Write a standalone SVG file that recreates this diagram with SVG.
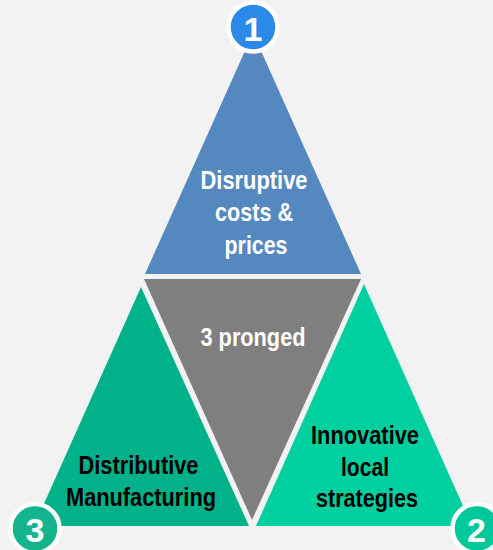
<svg xmlns="http://www.w3.org/2000/svg" width="493" height="550" viewBox="0 0 493 550">
<style>
.t{font-family:"Liberation Sans",Arial,sans-serif;font-weight:700;font-size:25.500px;text-anchor:middle}
.w{fill:#fff}.k{fill:#000}
.r{stroke:#fff;stroke-width:4.500}
.n{font-family:"Liberation Sans",Arial,sans-serif;font-weight:700;font-size:34px;fill:#fff;text-anchor:middle}
</style>
<rect width="493" height="550" fill="#f2f2f2"/>
<g id="node-top"><polygon points="253,33 361,274 145,274" fill="#5588bf"/>
<text class="t w" x="254" y="189" textLength="107" lengthAdjust="spacingAndGlyphs">Disruptive</text>
<text class="t w" x="254" y="221" textLength="78" lengthAdjust="spacingAndGlyphs">costs &amp;</text>
<text class="t w" x="256" y="254" textLength="63" lengthAdjust="spacingAndGlyphs">prices</text></g>
<g id="node-center"><polygon points="144,279 361,279 252,520" fill="#7f7f7f"/>
<text class="t w" x="253" y="346" textLength="105" lengthAdjust="spacingAndGlyphs">3 pronged</text></g>
<g id="node-left"><polygon points="141,287 249,526 34,526" fill="#00b18a"/>
<text class="t k" x="138.500" y="474" textLength="120" lengthAdjust="spacingAndGlyphs">Distributive</text>
<text class="t k" x="141" y="506" textLength="150" lengthAdjust="spacingAndGlyphs">Manufacturing</text></g>
<g id="node-right"><polygon points="364,284 472,526 256,526" fill="#00d09f"/>
<text class="t k" x="365" y="444" textLength="108" lengthAdjust="spacingAndGlyphs">Innovative</text>
<text class="t k" x="365" y="476" textLength="48" lengthAdjust="spacingAndGlyphs">local</text>
<text class="t k" x="367" y="507" textLength="102" lengthAdjust="spacingAndGlyphs">strategies</text></g>
<g id="badge-1"><circle class="r" cx="253" cy="27" r="24.500" fill="#2b8ae8"/><text class="n" x="253" y="40.500">1</text></g>
<g id="badge-2"><circle class="r" cx="477" cy="528.500" r="24.500" fill="#00c898"/><text class="n" x="476.500" y="542">2</text></g>
<g id="badge-3"><circle class="r" cx="35" cy="528.500" r="24.500" fill="#14b48c"/><text class="n" x="35" y="542">3</text></g>
<g id="connectors"/>
</svg>
